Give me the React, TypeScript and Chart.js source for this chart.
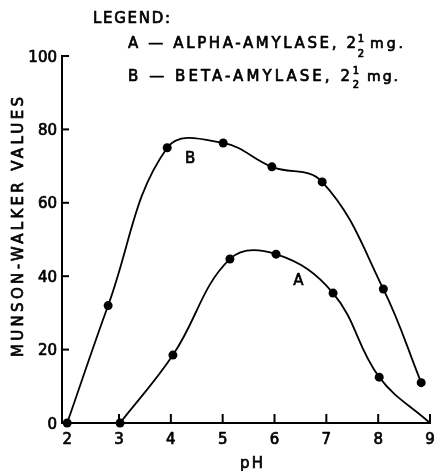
import React, { useEffect, useRef } from 'react';
import { Chart, registerables } from 'chart.js';

Chart.register(...registerables);

// Curve B: beta-amylase
const phB = [2.0, 2.79, 3.93, 5.01, 5.95, 6.92, 8.1, 8.83];
const valB = [0, 32, 75, 76.3, 69.8, 65.7, 36.5, 11];
// Curve A: alpha-amylase (last point is the curve's end on the axis, no marker)
const phA = [3.02, 4.04, 5.14, 6.03, 7.13, 8.02, 9.0];
const valA = [0, 18.5, 44.7, 46, 35.4, 12.5, 0];

const xTicks = [2, 3, 4, 5, 6, 7, 8, 9];
const yTicks = [0, 20, 40, 60, 80, 100];

const curveNames = ['A', 'B'];
const curveLabelPH = [6.46, 4.37];
const curveLabelVal = [38.7, 71.9];

const legendTitle = 'LEGEND:';
const legendLines = ['A — ALPHA-AMYLASE, 2', 'B — BETA-AMYLASE, 2'];
const legendUnit = 'mg.';
const yTitle = 'MUNSON-WALKER VALUES';
const xTitle = 'pH';

const FONT = '"DejaVu Sans", sans-serif';

function ink(ctx: CanvasRenderingContext2D, text: string, x: number, y: number) {
  ctx.fillText(text, x, y);
  ctx.strokeText(text, x, y);
}

function spaced(ctx: CanvasRenderingContext2D, text: string, x: number, y: number, width: number) {
  (ctx as any).letterSpacing = '0px';
  const w = ctx.measureText(text).width;
  const n = Math.max(1, text.length - 1);
  const sp = (width - w) / n;
  (ctx as any).letterSpacing = sp + 'px';
  ctx.textAlign = 'left';
  ink(ctx, text, x, y);
  (ctx as any).letterSpacing = '0px';
}

const decorPlugin = {
  id: 'decor',
  afterDraw(chart: any) {
    const ctx: CanvasRenderingContext2D = chart.ctx;
    const xs = chart.scales.x;
    const ys = chart.scales.y;
    const area = chart.chartArea;
    ctx.save();
    ctx.strokeStyle = '#000';
    ctx.fillStyle = '#000';
    ctx.lineWidth = 2;
    // inward tick marks
    xTicks.slice(1).forEach((v) => {
      const px = xs.getPixelForValue(v);
      ctx.beginPath();
      ctx.moveTo(px, area.bottom);
      ctx.lineTo(px, area.bottom - 9);
      ctx.stroke();
    });
    yTicks.slice(1).forEach((v) => {
      const py = ys.getPixelForValue(v);
      ctx.beginPath();
      ctx.moveTo(area.left, py);
      ctx.lineTo(area.left + 7, py);
      ctx.stroke();
    });

    ctx.lineWidth = 0.7;
    ctx.lineJoin = 'round';

    // tick labels
    ctx.font = '15px ' + FONT;
    ctx.textAlign = 'center';
    ctx.textBaseline = 'alphabetic';
    xTicks.forEach((v) => {
      ink(ctx, String(v), xs.getPixelForValue(v), area.bottom + 21);
    });
    ctx.textAlign = 'right';
    yTicks.forEach((v) => {
      ink(ctx, String(v), area.left - 5, ys.getPixelForValue(v) + 5.5);
    });

    // curve labels
    ctx.font = '15px ' + FONT;
    ctx.textAlign = 'center';
    ctx.textBaseline = 'middle';
    curveNames.forEach((n, i) => {
      ink(ctx, n, xs.getPixelForValue(curveLabelPH[i]), ys.getPixelForValue(curveLabelVal[i]));
    });

    // legend
    ctx.textBaseline = 'alphabetic';
    ctx.font = '15px ' + FONT;
    spaced(ctx, legendTitle, 93, 23, 77);
    spaced(ctx, legendLines[0], 128, 48, 228);
    spaced(ctx, legendLines[1], 128, 81, 222);
    ctx.font = '10px ' + FONT;
    ctx.textAlign = 'center';
    ink(ctx, '1', 361, 42);
    ink(ctx, '2', 361, 57);
    ink(ctx, '1', 356, 74);
    ink(ctx, '2', 356, 88);
    ctx.font = '14px ' + FONT;
    spaced(ctx, legendUnit, 370, 48, 33);
    spaced(ctx, legendUnit, 367, 81, 31);

    // axis titles
    ctx.font = '15px ' + FONT;
    ctx.save();
    ctx.translate(23, 227);
    ctx.rotate(-Math.PI / 2);
    spaced(ctx, yTitle, -130, 0, 260);
    ctx.restore();
    ctx.font = '15px ' + FONT;
    spaced(ctx, xTitle, 240, 468, 23);
    ctx.restore();
  },
};

export default function App() {
  const ref = useRef<HTMLCanvasElement>(null);
  useEffect(() => {
    if (!ref.current) return;
    const chart = new Chart(ref.current, {
      type: 'line',
      data: {
        datasets: [
          {
            label: 'A',
            data: phA.map((x, i) => ({ x, y: valA[i] })),
            borderColor: '#000',
            backgroundColor: '#000',
            borderWidth: 1.8,
            pointRadius: phA.map((_, i) => (i === phA.length - 1 ? 0 : 4.5)),
            pointBorderWidth: 0,
            pointBackgroundColor: '#000',
            tension: 0.4,
            clip: false as any,
          },
          {
            label: 'B',
            data: phB.map((x, i) => ({ x, y: valB[i] })),
            borderColor: '#000',
            backgroundColor: '#000',
            borderWidth: 1.8,
            pointRadius: 4.5,
            pointBorderWidth: 0,
            pointBackgroundColor: '#000',
            tension: 0.4,
            clip: false as any,
          },
        ],
      },
      options: {
        animation: false,
        responsive: true,
        maintainAspectRatio: false,
        layout: { padding: { top: 56, right: 7, left: 0, bottom: 0 } },
        plugins: { legend: { display: false }, tooltip: { enabled: false } },
        scales: {
          x: {
            type: 'linear',
            min: 1.9,
            max: 9,
            afterBuildTicks: (s: any) => {
              s.ticks = xTicks.map((v) => ({ value: v }));
            },
            afterFit: (s: any) => {
              s.height = 48;
            },
            grid: { display: true, drawOnChartArea: false, drawTicks: false },
            border: { display: true, color: '#000', width: 2 },
            ticks: { display: false },
          },
          y: {
            type: 'linear',
            min: 0,
            max: 100,
            afterBuildTicks: (s: any) => {
              s.ticks = yTicks.map((v) => ({ value: v }));
            },
            afterFit: (s: any) => {
              s.width = 62;
            },
            grid: { display: true, drawOnChartArea: false, drawTicks: false },
            border: { display: true, color: '#000', width: 2 },
            ticks: { display: false },
          },
        },
      },
      plugins: [decorPlugin],
    });
    return () => chart.destroy();
  }, []);
  return (
    <div style={{ position: 'fixed', left: 0, top: 0, width: 437, height: 471, background: '#fff' }}>
      <canvas ref={ref} />
    </div>
  );
}
